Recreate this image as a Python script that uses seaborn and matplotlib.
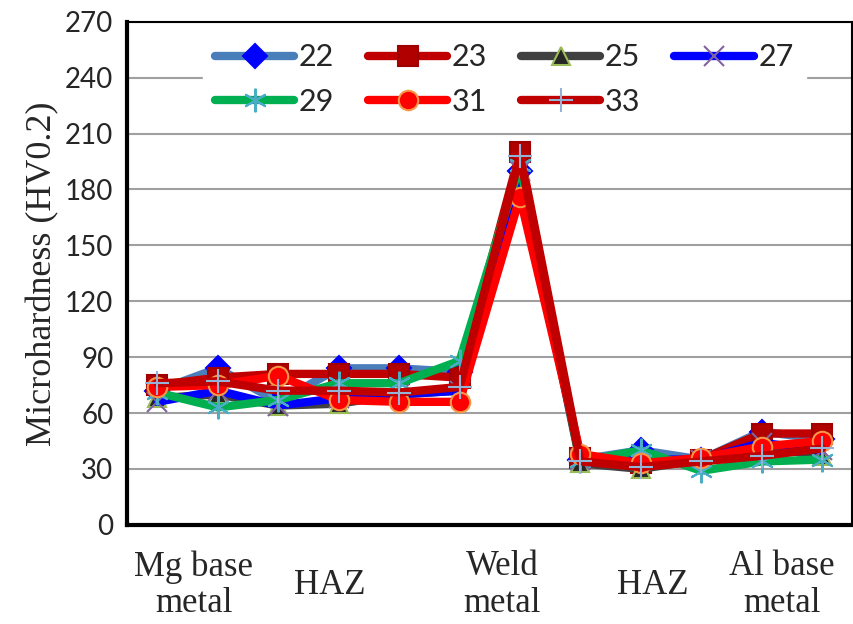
import numpy as np
import pandas as pd
import seaborn as sns
import matplotlib
matplotlib.use('Agg')
import matplotlib.pyplot as plt
from matplotlib.lines import Line2D

# data
positions = list(range(12))
s22 = [72, 84, 66, 84, 84, 82, 190, 35, 40, 35, 50, 46]
s23 = [75, 79, 81, 81, 81, 79, 200, 36, 33, 35, 49, 49]
s25 = [68, 70, 64, 65, 70, 72, 190, 33, 30, 35, 42, 37]
s27 = [66, 72, 64, 68, 70, 72, 190, 35, 35, 35, 44, 40]
s29 = [71, 63, 67, 76, 76, 88, 193, 34, 40, 29, 34, 35]
s31 = [74, 75, 80, 67, 66, 66, 176, 38, 33, 36, 42, 45]
s33 = [76, 77, 72, 72, 71, 74, 198, 34, 31, 34, 37, 41]
series_names = ['22', '23', '25', '27', '29', '31', '33']
zone_labels = ['Mg base\nmetal', 'HAZ', 'Weld\nmetal', 'HAZ', 'Al base\nmetal']
zone_pos = [0.6, 2.85, 5.7, 8.2, 10.33]

rows = []
for name, vals in zip(series_names, [s22, s23, s25, s27, s29, s31, s33]):
    for p, v in zip(positions, vals):
        rows.append({'pos': p, 'hv': v, 'series': name})
df = pd.DataFrame(rows)

# line colour, marker, marker face, marker edge, size
styles = {
    '22': ('#4a7ebb', 'D', '#0000ff', '#0000ff', 12),
    '23': ('#c00000', 's', '#b00000', '#a00000', 14),
    '25': ('#404040', '^', '#262626', '#9bbb59', 13),
    '27': ('#0000ff', 'x', '#8064a2', '#8064a2', 14),
    '29': ('#00b050', (6, 2, 0), '#4bacc6', '#4bacc6', 17),
    '31': ('#ff0000', 'o', '#ff0000', '#f79646', 14),
    '33': ('#c00000', '+', '#95b3d7', '#95b3d7', 17),
}

sns.set_style('white')
plt.rcParams['font.family'] = ['Lato', 'DejaVu Sans']

fig = plt.figure(figsize=(8.54, 6.24), dpi=100)
ax = fig.add_axes([0.149, 0.159, 0.849, 0.806])

handles = {}
for name in series_names:
    lc, mk, mf, me, ms = styles[name]
    sub = df[df.series == name]
    sns.lineplot(data=sub, x='pos', y='hv', ax=ax, color=lc, lw=6,
                 marker=mk, markersize=ms, markerfacecolor=mf,
                 markeredgecolor=me, markeredgewidth=1.5, legend=False)
    handles[name] = Line2D([], [], color=lc, lw=6, solid_capstyle='round',
                           marker=mk, markersize=ms, markerfacecolor=mf,
                           markeredgecolor=me, markeredgewidth=1.5, label=name)

ax.set_xlim(-0.5, 11.5)
ax.set_ylim(0, 270)
ax.set_yticks(np.arange(0, 271, 30))
ax.yaxis.grid(True, color='#a0a0a0', lw=1.5)
ax.set_axisbelow(True)
ax.tick_params(axis='y', length=0, labelsize=20, pad=10)
ax.set_xticks([])
ax.set_xlabel('')
ax.set_ylabel('Microhardness (HV0.2)', family='Liberation Serif', fontsize=26,
              labelpad=4)

for sp in ['left', 'bottom']:
    ax.spines[sp].set_linewidth(3)
    ax.spines[sp].set_color('black')
for sp in ['top', 'right']:
    ax.spines[sp].set_linewidth(1.5)
    ax.spines[sp].set_color('black')

for p, lab in zip(zone_pos, zone_labels):
    ax.text(p, -0.12, lab, transform=ax.get_xaxis_transform(), ha='center',
            va='center', family='Liberation Serif', fontsize=25, linespacing=1.15)

# legend fills columns first: reorder so rows read 22 23 25 27 / 29 31 33
leg_order = ['22', '29', '23', '31', '25', '33', '27']
leg = ax.legend(handles=[handles[n] for n in leg_order], ncol=4,
                loc='upper center', bbox_to_anchor=(0.52, 1.0), frameon=True,
                fontsize=22, handlelength=2.6, columnspacing=1.1,
                handletextpad=0.15, labelspacing=0.55, borderaxespad=0.3)
leg.get_frame().set_edgecolor('white')
leg.get_frame().set_facecolor('white')
leg.get_frame().set_alpha(1)

plt.savefig('out.png', dpi=100)
